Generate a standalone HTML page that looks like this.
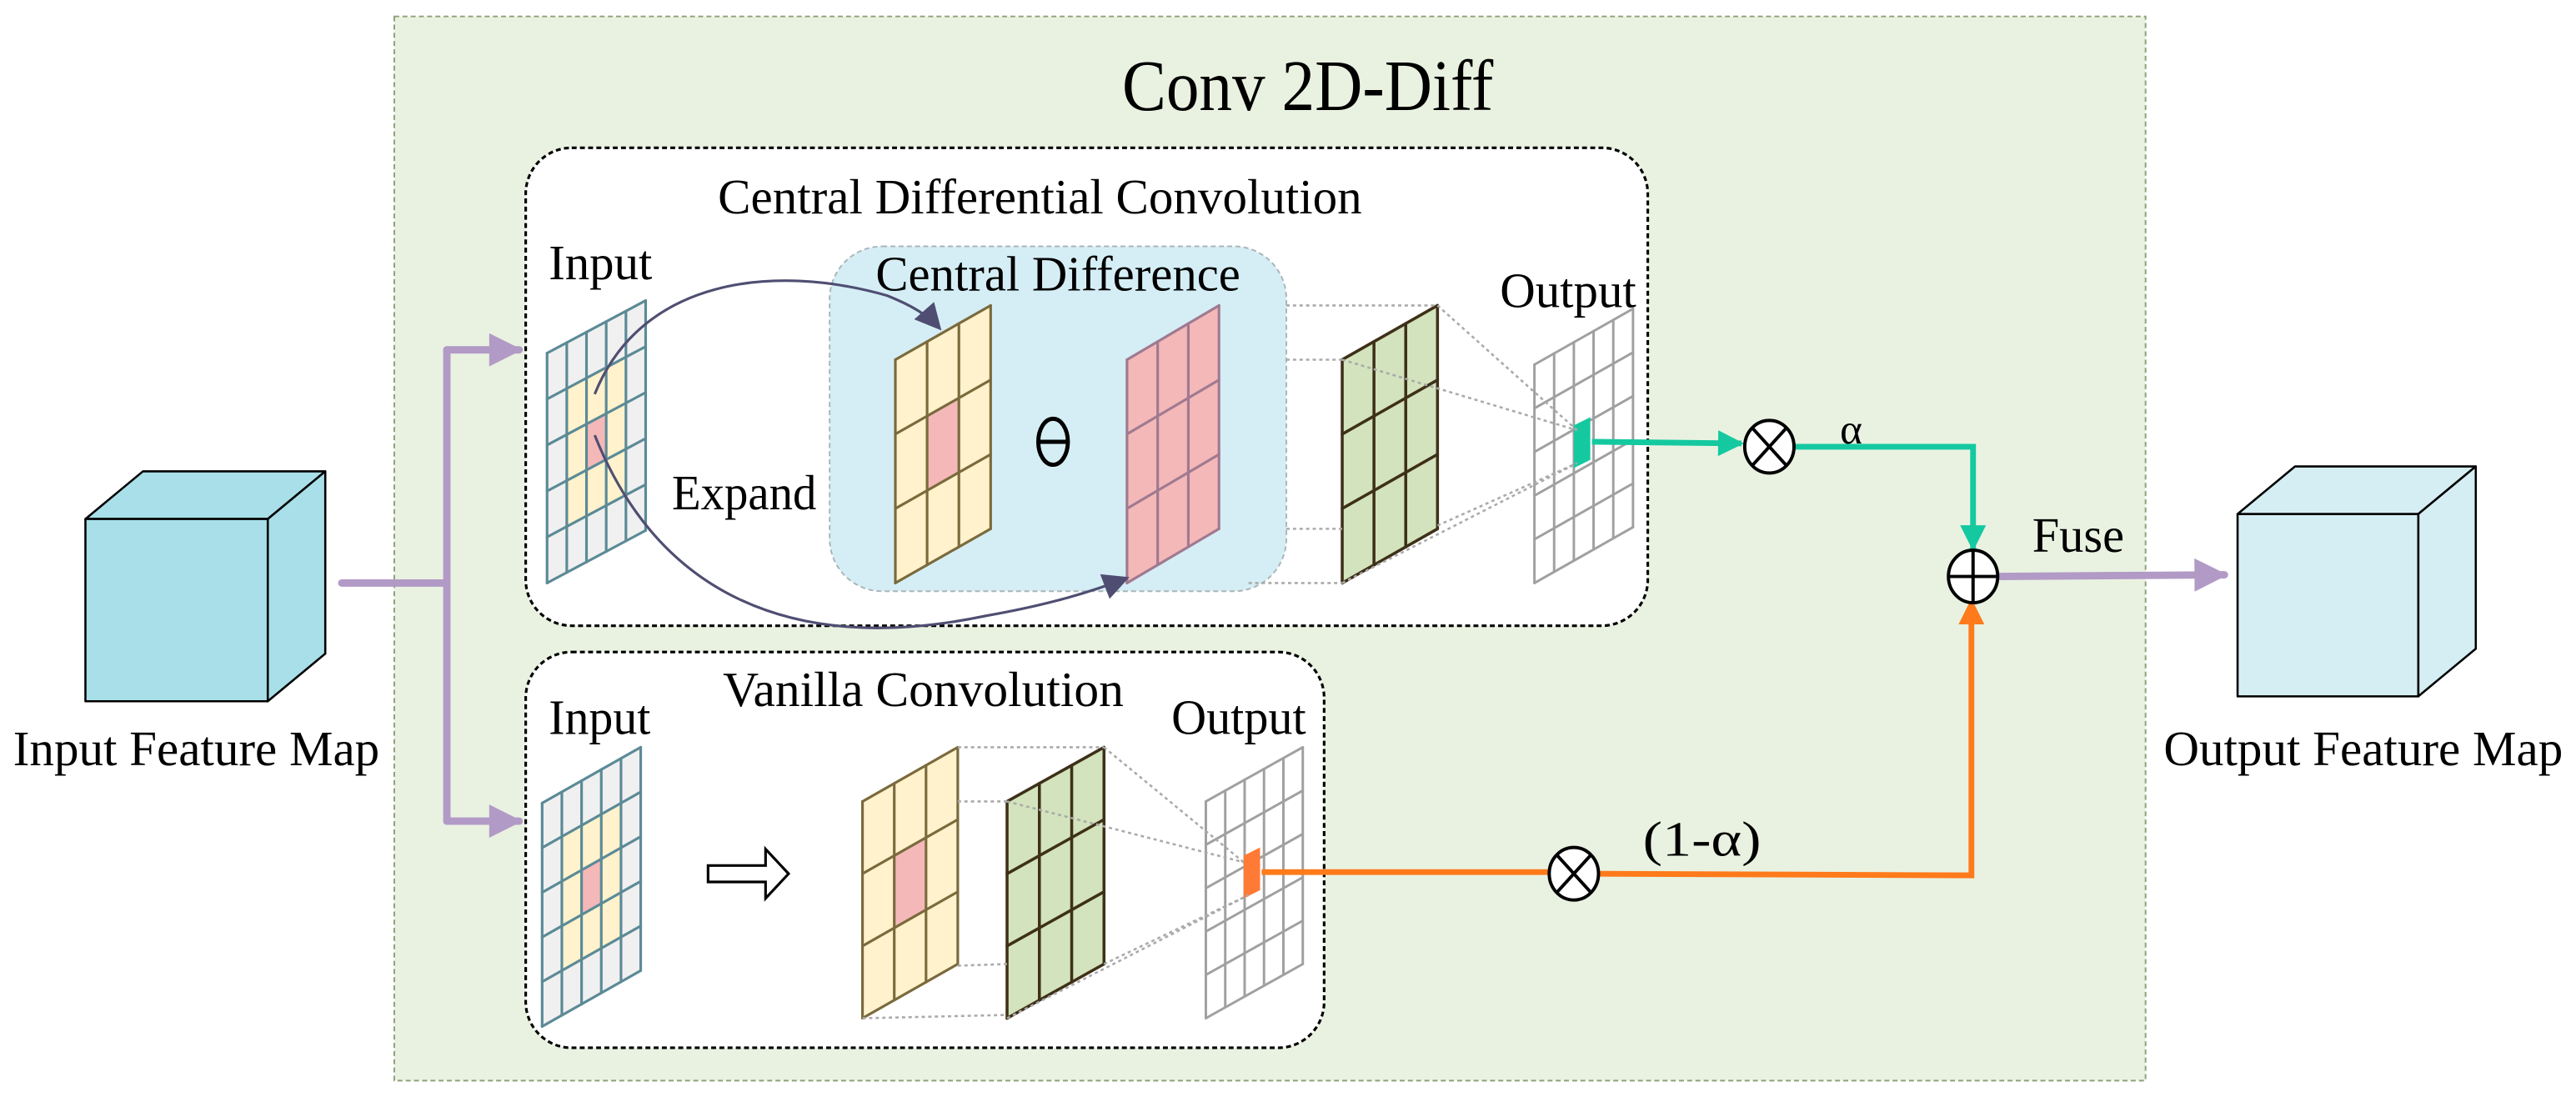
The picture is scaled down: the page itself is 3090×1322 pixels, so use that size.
<!DOCTYPE html>
<html><head><meta charset="utf-8"><style>
html,body{margin:0;padding:0;background:#fff;}
svg{display:block;}
text{font-family:"Liberation Serif",serif;fill:#000;}
</style></head><body>
<svg id="s" width="3090" height="1322" viewBox="0 0 1568 671" preserveAspectRatio="none" xmlns="http://www.w3.org/2000/svg">
<defs>
<marker id="ap" viewBox="0 0 10 10" refX="9" refY="5" markerWidth="5.5" markerHeight="4.5" orient="auto" markerUnits="strokeWidth"><path d="M0,0L10,5L0,10z" fill="#b29ac6"/></marker>
<marker id="at" viewBox="0 0 10 10" refX="9" refY="5" markerWidth="5" markerHeight="4.5" orient="auto" markerUnits="strokeWidth"><path d="M0,0L10,5L0,10z" fill="#14c9a0"/></marker>
<marker id="ao" viewBox="0 0 10 10" refX="9" refY="5" markerWidth="5" markerHeight="4.5" orient="auto" markerUnits="strokeWidth"><path d="M0,0L10,5L0,10z" fill="#ff7a1a"/></marker>
<marker id="ad" viewBox="0 0 10 10" refX="9" refY="5" markerWidth="11" markerHeight="10" orient="auto" markerUnits="strokeWidth"><path d="M0,0L10,5L0,10z" fill="#4f4e72"/></marker>
</defs>
<rect x="240" y="10" width="1066" height="648" fill="#e9f2e1" stroke="#8fa07a" stroke-width="1" stroke-dasharray="3,2"/>
<text x="796" y="67" font-size="44" text-anchor="middle" textLength="226" lengthAdjust="spacingAndGlyphs">Conv 2D-Diff</text>
<rect x="320" y="90" width="683" height="291" rx="28" fill="#fff" stroke="#000" stroke-width="1.6" stroke-dasharray="3,2"/>
<rect x="320" y="397" width="486" height="241" rx="28" fill="#fff" stroke="#000" stroke-width="1.6" stroke-dasharray="3,2"/>
<rect x="505" y="150" width="278" height="210" rx="32" fill="#d5eef5" stroke="#a9b6b8" stroke-width="1" stroke-dasharray="3,2"/>
<text x="633" y="130" font-size="30" text-anchor="middle" textLength="392" lengthAdjust="spacingAndGlyphs">Central Differential Convolution</text>
<text x="644" y="177" font-size="30" text-anchor="middle" textLength="222" lengthAdjust="spacingAndGlyphs">Central Difference</text>
<text x="334" y="170" font-size="30" textLength="63" lengthAdjust="spacingAndGlyphs">Input</text>
<text x="913" y="187" font-size="30" textLength="83" lengthAdjust="spacingAndGlyphs">Output</text>
<text x="409" y="310" font-size="30" textLength="88" lengthAdjust="spacingAndGlyphs">Expand</text>
<text x="562" y="430" font-size="30" text-anchor="middle" textLength="244" lengthAdjust="spacingAndGlyphs">Vanilla Convolution</text>
<text x="334" y="447" font-size="30" textLength="62" lengthAdjust="spacingAndGlyphs">Input</text>
<text x="713" y="447" font-size="30" textLength="82" lengthAdjust="spacingAndGlyphs">Output</text>
<text x="8" y="466" font-size="30" textLength="223" lengthAdjust="spacingAndGlyphs">Input Feature Map</text>
<text x="1317" y="466" font-size="30" textLength="243" lengthAdjust="spacingAndGlyphs">Output Feature Map</text>
<text x="1237" y="336" font-size="30" textLength="56" lengthAdjust="spacingAndGlyphs">Fuse</text>
<text x="1120" y="270" font-size="26">α</text>
<text x="1000" y="521" font-size="30" textLength="72" lengthAdjust="spacingAndGlyphs">(1-α)</text>
<g stroke="#000" stroke-width="1.3" stroke-linejoin="round">
<polygon points="52,316 87,287 198,287 163,316" fill="#a8dfe8"/>
<polygon points="163,316 198,287 198,398 163,427" fill="#a8dfe8"/>
<rect x="52" y="316" width="111" height="111" fill="#a8dfe8"/>
<polygon points="1362,313 1397,284 1507,284 1472,313" fill="#d5eef4"/>
<polygon points="1472,313 1507,284 1507,395 1472,424" fill="#d5eef4"/>
<rect x="1362" y="313" width="110" height="111" fill="#d5eef4"/>
</g>
<g id="grids"></g>
<g stroke="#aaa" stroke-width="1.3" stroke-dasharray="2,2" fill="none">
<line x1="783" y1="186" x2="875" y2="186"/><line x1="783" y1="219" x2="817" y2="219"/>
<line x1="783" y1="322" x2="817" y2="322"/><line x1="760" y1="355" x2="817" y2="355"/>
<line x1="875" y1="186" x2="960" y2="262"/><line x1="817" y1="219" x2="960" y2="262"/>
<line x1="875" y1="320" x2="960" y2="282"/><line x1="817" y1="355" x2="960" y2="282"/>
<line x1="583" y1="455" x2="672" y2="455"/><line x1="583" y1="488" x2="613" y2="488"/>
<line x1="583" y1="588" x2="613" y2="587"/><line x1="525" y1="620" x2="613" y2="618"/>
<line x1="672" y1="455" x2="757" y2="525"/><line x1="613" y1="488" x2="757" y2="525"/>
<line x1="672" y1="587" x2="760" y2="545"/><line x1="613" y1="620" x2="760" y2="545"/>
</g>
<ellipse cx="641" cy="269" rx="9" ry="14" fill="none" stroke="#000" stroke-width="2.5"/>
<line x1="632" y1="269" x2="650" y2="269" stroke="#000" stroke-width="2.5"/>
<path d="M362,240 C390,170 470,160 540,180 C555,186 565,192 572,200" fill="none" stroke="#4f4e72" stroke-width="1.6" marker-end="url(#ad)"/>
<path d="M362,265 C400,360 480,400 600,375 C640,368 665,360 686,352" fill="none" stroke="#4f4e72" stroke-width="1.6" marker-end="url(#ad)"/>
<polygon points="431,527 466,527 466,517 480,532 466,547 466,537 431,537" fill="#fff" stroke="#000" stroke-width="1.6"/>
<g stroke="#b29ac6" stroke-width="4.5" fill="none" stroke-linecap="round">
<line x1="208" y1="355" x2="272" y2="355"/>
<line x1="272" y1="213" x2="272" y2="500"/>
<line x1="272" y1="213" x2="316" y2="213" marker-end="url(#ap)"/>
<line x1="272" y1="500" x2="316" y2="500" marker-end="url(#ap)"/>
<line x1="1216" y1="351" x2="1354" y2="350" marker-end="url(#ap)"/>
</g>
<g stroke="#14c9a0" stroke-width="3.5" fill="none">
<line x1="969" y1="269" x2="1060" y2="270" marker-end="url(#at)"/>
<polyline points="1092,272 1201,272 1201,334" marker-end="url(#at)"/>
</g>
<g stroke="#ff7a1a" stroke-width="3.5" fill="none">
<line x1="768" y1="531" x2="943" y2="531"/>
<polyline points="973,532 1200,533 1200,366" marker-end="url(#ao)"/>
</g>
<g stroke="#000" stroke-width="2" fill="#fff">
<ellipse cx="1077" cy="272" rx="15" ry="16"/>
<ellipse cx="958" cy="532" rx="15" ry="16"/>
<ellipse cx="1201" cy="351" rx="15" ry="16"/>
</g>
<g stroke="#000" stroke-width="2">
<line x1="1067" y1="261" x2="1087" y2="283"/><line x1="1087" y1="261" x2="1067" y2="283"/>
<line x1="948" y1="521" x2="968" y2="543"/><line x1="968" y1="521" x2="948" y2="543"/>
<line x1="1186" y1="351" x2="1216" y2="351"/><line x1="1201" y1="335" x2="1201" y2="367"/>
</g>
</svg>
<script>
(function(){
var NS="http://www.w3.org/2000/svg",g=document.getElementById("grids");
function P(TL,TR,BL,u,v){return [TL[0]+u*(TR[0]-TL[0])+v*(BL[0]-TL[0]),TL[1]+u*(TR[1]-TL[1])+v*(BL[1]-TL[1])];}
function poly(pts,fill,stroke,sw){var p=document.createElementNS(NS,"polygon");p.setAttribute("points",pts.map(function(a){return a.join(",")}).join(" "));p.setAttribute("fill",fill);p.setAttribute("stroke",stroke||"none");if(sw)p.setAttribute("stroke-width",sw);g.appendChild(p);}
function line(a,b,stroke,sw){var l=document.createElementNS(NS,"line");l.setAttribute("x1",a[0]);l.setAttribute("y1",a[1]);l.setAttribute("x2",b[0]);l.setAttribute("y2",b[1]);l.setAttribute("stroke",stroke);l.setAttribute("stroke-width",sw);l.setAttribute("stroke-linecap","round");g.appendChild(l);}
function grid(TL,TR,BL,nc,nr,fillFn,stroke,sw){
 for(var i=0;i<nc;i++)for(var j=0;j<nr;j++){var f=fillFn(i,j);if(!f)continue;
  poly([P(TL,TR,BL,i/nc,j/nr),P(TL,TR,BL,(i+1)/nc,j/nr),P(TL,TR,BL,(i+1)/nc,(j+1)/nr),P(TL,TR,BL,i/nc,(j+1)/nr)],f);}
 for(var i=0;i<=nc;i++)line(P(TL,TR,BL,i/nc,0),P(TL,TR,BL,i/nc,1),stroke,sw);
 for(var j=0;j<=nr;j++)line(P(TL,TR,BL,0,j/nr),P(TL,TR,BL,1,j/nr),stroke,sw);
}
function inp(i,j){if(i==2&&j==2)return "#f4b8b8";if(i>=1&&i<=3&&j>=1&&j<=3)return "#fff2cc";return "#f0f0f0";}
grid([333,215],[393,183],[333,355],5,5,inp,"#5b8a96",1.6);
grid([545,219],[603,186],[545,355],3,3,function(i,j){return (i==1&&j==1)?"#f4b8b8":"#fff2cc";},"#7a6a3c",1.6);
grid([686,219],[742,186],[686,355],3,3,function(){return "#f4b8b8";},"#a07a90",1.6);
grid([817,219],[875,186],[817,355],3,3,function(){return "#d3e3bd";},"#3e3018",1.8);
grid([934,222],[994,188],[934,355],5,5,function(){return "#fff";},"#a0a0a0",1.5);
poly([[958,259],[968,254],[968,280],[958,285]],"#14c9a0");
grid([330,489],[390,455],[330,625],5,5,inp,"#5b8a96",1.6);
grid([525,488],[583,455],[525,620],3,3,function(i,j){return (i==1&&j==1)?"#f4b8b8":"#fff2cc";},"#7a6a3c",1.6);
grid([613,488],[672,455],[613,620],3,3,function(){return "#d3e3bd";},"#3e3018",1.8);
grid([734,488],[793,455],[734,620],5,5,function(){return "#fff";},"#a0a0a0",1.5);
poly([[757,521],[767,516],[767,542],[757,547]],"#ff7a35");
})();
</script>
</body></html>
